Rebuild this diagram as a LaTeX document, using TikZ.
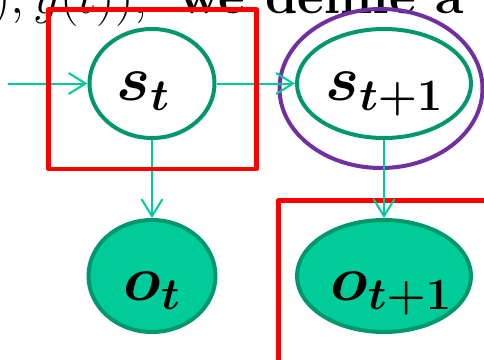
\RequirePackage{fix-cm}
\documentclass[tikz,border=0pt]{standalone}
\usepackage{amsmath}
\usepackage{bm}
\usetikzlibrary{arrows.meta,shapes.geometric}
\definecolor{tealdark}{RGB}{0,150,110}
\definecolor{tealfill}{RGB}{0,204,153}
\definecolor{arrowgreen}{RGB}{0,204,153}
\definecolor{purp}{RGB}{112,48,160}
\begin{document}
\begin{tikzpicture}[x=1pt,y=-1pt,
  state/.style={ellipse, draw=tealdark, line width=4pt, inner sep=0pt,
    font=\fontsize{64}{64}\selectfont, text height=40pt, text depth=6pt},
  obs/.style={state, fill=tealfill, text height=52pt, text depth=4pt},
  conn/.style={draw=arrowgreen, line width=2pt, -{Straight Barb[length=17pt,width=21pt]}},
  hl/.style={draw=red, line width=4.5pt, line join=round},
  big/.style={inner sep=0pt, font=\fontsize{52}{52}\selectfont}
  ]
  \useasboundingbox (0,0) rectangle (484,359);
  \clip (0,0) rectangle (484,359);
  % partially visible caption text
  \node[big, anchor=base east] (txta) at (148,13) {$t), y(t)),$};
  \node[big, anchor=base west, font=\fontsize{52}{52}\selectfont\bfseries] (txtb) at (178,13) {we define a};
  % second highlight box (behind)
  \draw[hl] (278.5,200.5) rectangle (520,400);
  % nodes
  \node[state, minimum width=125pt, minimum height=109pt] (st) at (152,83.5) {\kern-18pt$\bm{s}_{\bm{t}}$};
  \node[state, minimum width=174pt, minimum height=109pt] (st1) at (384,83.5) {$\bm{s}_{\bm{t+1}}$};
  \node[ellipse, draw=purp, line width=4pt, minimum width=203pt, minimum height=159pt, inner sep=0pt] (ring) at (381,88.5) {};
  \node[obs, minimum width=127pt, minimum height=112pt] (ot) at (152,276) {$\bm{o}_{\bm{t}}$};
  \node[obs, minimum width=174pt, minimum height=112pt] (ot1) at (384,276) {$\bm{o}_{\bm{t+1}}$\kern-14pt};
  \coordinate (in) at (8,83.5);
  % connectors
  \draw[conn] (in) -- (st);
  \draw[conn] (st) -- (st1);
  \draw[conn] (st.south) -- (ot.north);
  \draw[conn] (st1.south) -- (ot1.north);
  % first highlight box
  \draw[hl] (48.5,9.5) rectangle (256.5,169);
\end{tikzpicture}
\end{document}
